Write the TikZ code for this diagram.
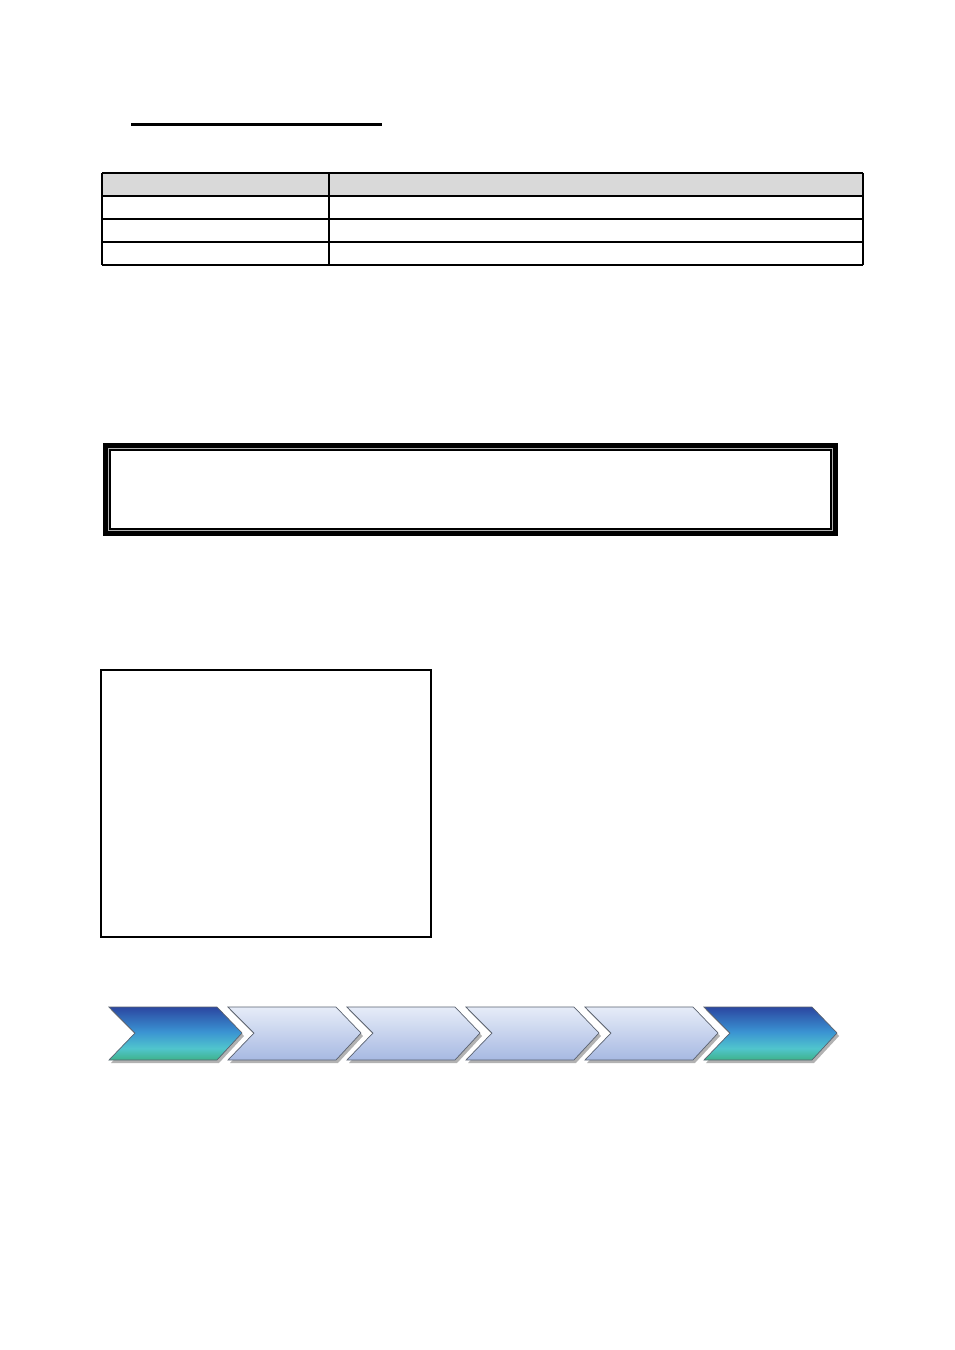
\documentclass[tikz,border=0pt]{standalone}
\definecolor{cellgray}{HTML}{D9D9D9}
\definecolor{edgegray}{HTML}{5A6270}
\definecolor{lighttop}{HTML}{E6ECF8}
\definecolor{lightbot}{HTML}{A7B9E2}
\definecolor{deepgreen}{HTML}{3FB28B}
\definecolor{deepcyan}{HTML}{50C5CD}
\definecolor{deepmid}{HTML}{3A92D2}
\definecolor{deeptop}{HTML}{2B47A1}
\pgfdeclareverticalshading{deepchev}{100bp}{color(0bp)=(deepgreen); color(25bp)=(deepgreen); color(36bp)=(deepcyan); color(52bp)=(deepmid); color(75bp)=(deeptop); color(100bp)=(deeptop)}
\begin{document}
\begin{tikzpicture}[x=0.5pt, y=-0.5pt,
	cell/.style={line width=0.6pt},
	chevshadow/.style={fill=black, opacity=0.3},
	chevlight/.style={draw=edgegray, line width=0.35pt, top color=lighttop, bottom color=lightbot},
	chevdeep/.style={draw=edgegray, line width=0.35pt, shading=deepchev}]
	\fill[white] (0,0) rectangle (954,1350);
	\useasboundingbox (0,0) rectangle (954,1350);
	%%%%%%%%%%%%% heading rule
	\draw[line width=1.7pt] (131,124.5) -- (382,124.5);
	%%%%%%%%%%%%% table
	\fill[cellgray] (102,173) rectangle (863,196);
	\foreach \y in {173,196,219,242,265}
		\draw[cell] (102,\y) -- (863,\y);
	\foreach \x in {102,329,863}
		\draw[cell] (\x,173) -- (\x,265);
	%%%%%%%%%%%%% framed box
	\draw[line width=2.6pt] (105.5,445.5) rectangle (835.5,533.5);
	\draw[gray!60, line width=0.8pt] (108.5,448.5) rectangle (832.5,530.5);
	\draw[line width=0.6pt] (110,450) rectangle (831,529);
	%%%%%%%%%%%%% plain box
	\draw[line width=0.7pt] (101,670) rectangle (431,937);
	%%%%%%%%%%%%% chevrons
	\foreach \x [count=\i] in {109,228,347,466,585,704} {
		\fill[chevshadow] (\x+2,1010) -- ++(108,0) -- ++(25,26) -- ++(-25,27) -- ++(-108,0) -- ++(26,-27) -- cycle;
		\ifnum\i=1 \def\chevstyle{chevdeep}\else\ifnum\i=6 \def\chevstyle{chevdeep}\else\def\chevstyle{chevlight}\fi\fi
		\path[\chevstyle] (\x,1007) -- ++(108,0) -- ++(25,26) -- ++(-25,27) -- ++(-108,0) -- ++(26,-27) -- cycle;
	}
\end{tikzpicture}
\end{document}
